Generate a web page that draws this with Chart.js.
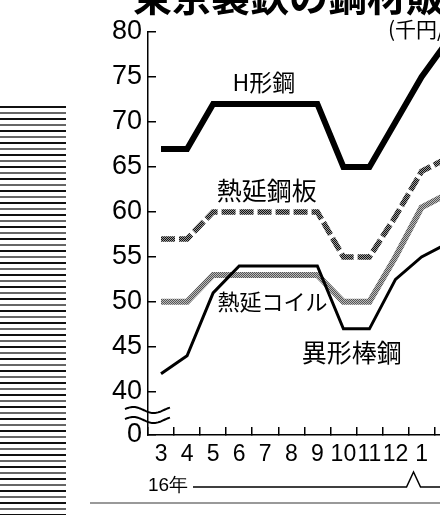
<!DOCTYPE html>
<html>
<head>
<meta charset="utf-8">
<script src="https://cdn.jsdelivr.net/npm/chart.js@4.4.1/dist/chart.umd.min.js"></script>
<style>
html,body{margin:0;padding:0;background:#fff;}
#wrap{position:relative;width:440px;height:515px;overflow:hidden;background:#fff;}
#stripes{position:absolute;left:0;top:106px;width:66px;height:409px;
  background:repeating-linear-gradient(to bottom,#111 0,#111 2px,#fff 2px,#fff 6px,#666 6px,#666 8px,#fff 8px,#fff 12px);}
#rule{position:absolute;left:90px;top:502px;width:350px;height:2px;background:#999;}
#mycanvas{position:absolute;left:0;top:0;}
</style>
</head>
<body>
<div id="wrap">
  <div id="stripes"></div>
  <canvas id="mycanvas" width="468" height="515"></canvas>
  <div id="rule"></div>
</div>
<script>
// months from March 2016 to February 2017
var months = ['3','4','5','6','7','8','9','10','11','12','1','2'];
var hBeam    = [67, 67, 72, 72, 72, 72, 72, 65, 65, 70, 75, 79];
var hotSheet = [57, 57, 60, 60, 60, 60, 60, 55, 55, 59.5, 64.5, 66];
var hotCoil  = [50, 50, 53, 53, 53, 53, 53, 50, 50, 55, 60.5, 62];
var rebar    = [42, 44, 51, 54, 54, 54, 54, 47, 47, 52.5, 55, 56.5];
var yTicks = [40, 45, 50, 55, 60, 65, 70, 75, 80];
var yBreak = 35.2;   // bottom of the broken axis, shown as 0

var title = '東京製鉄の鋼材販売価格';
var unit = '(千円/トン)';
var yearText = '16年';

var jp = '"Noto Sans CJK JP", "Noto Sans CJK SC", sans-serif';
var latin = '"Liberation Sans", Arial, sans-serif';

// text labels next to the lines: [category index, value]
var notes = [
  {text:'H形鋼',     at:[3.95, 74.4], size:23},
  {text:'熱延鋼板',   at:[4.06, 62.4], size:25},
  {text:'熱延コイル', at:[4.28, 50.0], size:22},
  {text:'異形棒鋼',   at:[7.32, 44.4], size:25}
];

var ctx = document.getElementById('mycanvas').getContext('2d');

function halftone(c1, c2){
  var p = document.createElement('canvas');
  p.width = 2; p.height = 2;
  var g = p.getContext('2d');
  g.fillStyle = c1; g.fillRect(0, 0, 2, 2);
  g.fillStyle = c2; g.fillRect(0, 0, 1, 1); g.fillRect(1, 1, 1, 1);
  return ctx.createPattern(p, 'repeat');
}

var decor = {
  id: 'decor',
  afterDraw: function(chart){
    var c = chart.ctx, xs = chart.scales.x, ys = chart.scales.y, a = chart.chartArea;
    c.save();
    c.fillStyle = '#000';
    c.strokeStyle = '#000';

    c.textAlign = 'left';
    c.textBaseline = 'alphabetic';
    c.font = 'bold 39px ' + jp;
    c.fillText(title, a.left - 15, 11);

    c.font = '21px ' + jp;
    c.textBaseline = 'middle';
    c.fillText(unit, 388, a.top - 3);

    c.textAlign = 'center';
    notes.forEach(function(n){
      c.font = n.size + 'px ' + jp;
      c.fillText(n.text, xs.getPixelForValue(n.at[0]), ys.getPixelForValue(n.at[1]));
    });

    // axis break
    c.lineWidth = 2;
    [25, 15].forEach(function(off){
      var y0 = a.bottom - off;
      c.beginPath();
      for (var i = 0; i <= 45; i++) {
        var x = a.left - 23 + i;
        var y = y0 - 3 * Math.sin(i / 45 * Math.PI * 2.2 + 0.3);
        if (i === 0) c.moveTo(x, y); else c.lineTo(x, y);
      }
      c.stroke();
    });

    // year bracket
    var yy = a.bottom + 51;
    c.textAlign = 'left';
    c.font = '19px ' + latin;
    c.fillText(yearText, a.left, yy);
    var cx = (xs.getPixelForValue(9) + xs.getPixelForValue(10)) / 2 + 5;
    c.lineWidth = 1.5;
    c.beginPath();
    c.moveTo(a.left + 45, yy + 1);
    c.lineTo(cx - 7, yy + 1);
    c.lineTo(cx, yy - 14);
    c.lineTo(cx + 7, yy + 1);
    c.lineTo(chart.width, yy + 1);
    c.stroke();
    c.restore();
  }
};

var base = {fill:false, tension:0, pointRadius:0, borderCapStyle:'butt', borderJoinStyle:'miter'};

var chartdata = {
  labels: months,
  datasets: [
    Object.assign({label:'H形鋼', data:hBeam, borderColor:'#000', borderWidth:6, order:1}, base),
    Object.assign({label:'異形棒鋼', data:rebar, borderColor:'#000', borderWidth:3, order:2}, base),
    Object.assign({label:'熱延鋼板', data:hotSheet, borderColor:halftone('#999', '#111'),
      borderWidth:5.5, borderDash:[14, 4], order:3}, base),
    Object.assign({label:'熱延コイル', data:hotCoil, borderColor:halftone('#bbb', '#555'),
      borderWidth:6, order:4}, base)
  ]
};

var LineGraph = new Chart(ctx, {
  type: 'line',
  data: chartdata,
  options: {
    responsive: false,
    animation: false,
    layout: {padding: {top:32, left:0, right:0, bottom:0}},
    plugins: {legend:{display:false}, tooltip:{enabled:false}},
    scales: {
      x: {
        offset: true,
        afterFit: function(s){ s.height = 80; },
        ticks: {color:'#000', font:{family:latin, size:23}, padding:14, maxRotation:0, autoSkip:false},
        grid: {offset:true, drawOnChartArea:false, tickLength:-8, color:'#000', lineWidth:1.5},
        border: {color:'#000', width:1.5}
      },
      y: {
        min: yBreak,
        max: 80,
        afterBuildTicks: function(s){
          s.ticks = [yBreak].concat(yTicks).map(function(v){ return {value:v}; });
        },
        afterFit: function(s){ s.width = 148; },
        ticks: {
          color:'#000', font:{family:latin, size:27}, padding:14, autoSkip:false,
          callback: function(v){ return v === yBreak ? '0' : v; }
        },
        grid: {drawOnChartArea:false, tickLength:-8, color:'#000', lineWidth:1.5},
        border: {color:'#000', width:1.5}
      }
    }
  },
  plugins: [decor]
});
</script>
</body>
</html>
